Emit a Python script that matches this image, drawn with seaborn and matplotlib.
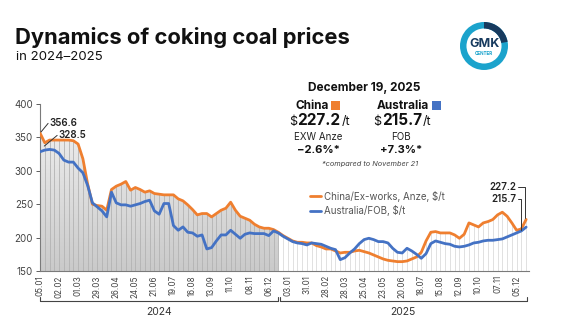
import numpy as np
import pandas as pd
import seaborn as sns
import matplotlib
matplotlib.use("Agg")
import matplotlib.pyplot as plt
import matplotlib.transforms as mtransforms
from matplotlib.patches import Wedge, Circle, Rectangle, PathPatch
from matplotlib.lines import Line2D
from matplotlib.colors import LinearSegmentedColormap

# ---------------- data ----------------
tick_labels_2024 = ["05.01", "02.02", "01.03", "29.03", "26.04", "24.05", "21.06",
                    "19.07", "16.08", "13.09", "11.10", "08.11", "06.12"]
tick_labels_2025 = ["03.01", "31.01", "28.02", "28.03", "25.04", "23.05", "20.06",
                    "18.07", "15.08", "12.09", "10.10", "07.11", "05.12"]

china = [356.6, 342, 346, 346, 346, 346, 346, 345, 340, 318,
         280, 250, 248, 247, 241, 272, 277, 280, 284, 271,
         275, 272, 268, 270, 266, 265, 264, 264, 264, 258,
         255, 249, 242, 234, 236, 236, 231, 236, 241, 244,
         253, 241, 232, 229, 226, 220, 216, 214, 214, 212,
         208, 203, 199, 195, 193, 193, 192, 192, 188, 186,
         183, 183, 180, 177, 178, 178, 180, 181, 179, 177,
         174, 171, 168, 166, 165, 164, 164, 165, 168, 171,
         178, 195, 208, 209, 207, 207, 207, 204, 199, 205,
         222, 219, 216, 222, 224, 227, 234, 238, 232, 222,
         211, 213, 227.2]

australia = [328.5, 331, 332, 331, 326, 316, 313, 313, 304, 297,
             278, 252, 246, 240, 231, 268, 252, 249, 249, 247,
             249, 251, 254, 256, 240, 235, 251, 251, 218, 211,
             216, 208, 207, 202, 204, 183, 185, 195, 204, 204,
             211, 205, 199, 205, 207, 206, 206, 206, 203, 210,
             207, 202, 198, 194, 192, 191, 189, 192, 191, 190,
             187, 184, 182, 167, 170, 177, 183, 191, 197, 199,
             197, 194, 194, 192, 184, 178, 177, 184, 180, 175,
             169, 176, 191, 195, 193, 191, 190, 187, 186, 187,
             189, 192, 193, 195, 196, 196, 197, 198, 201, 204,
             207, 210, 215.7]

series_names = ["China/Ex-works, Anze, $/t", "Australia/FOB, $/t"]
colors = {"China/Ex-works, Anze, $/t": "#ef7f2f", "Australia/FOB, $/t": "#4472c4"}

n = len(china)
idx = np.arange(n)
df = pd.DataFrame({
    "week": np.concatenate([idx, idx]),
    "price": np.concatenate([china, australia]),
    "series": [series_names[0]] * n + [series_names[1]] * n,
})

# ---------------- figure ----------------
sns.set_theme(style="white")
plt.rcParams['font.family'] = ['Inter', 'DejaVu Sans']
W, H = 564, 322
fig = plt.figure(figsize=(W / 100, H / 100), dpi=100)
fig.patch.set_facecolor("white")

def fx(px):
    return px / W

def fy(py):
    return 1 - py / H

ax = fig.add_axes([fx(40), fy(271), fx(529) - fx(40), fy(104) - fy(271)])
ax.set_facecolor("none")

top = np.maximum(np.array(china), np.array(australia))
split = 50

# gradient gray fill for 2024
poly = ax.fill_between(idx[:split + 1], 150, top[:split + 1], facecolor="none", edgecolor="none")
clip = PathPatch(poly.get_paths()[0], transform=ax.transData, facecolor="none", edgecolor="none")
ax.add_patch(clip)
cmap = LinearSegmentedColormap.from_list("g", ["#cacaca", "#eeeeee"])
grad = np.linspace(0, 1, 256).reshape(-1, 1)
im = ax.imshow(grad, extent=[0, split, 150, 370], origin="lower", cmap=cmap,
               aspect="auto", zorder=1, interpolation="bilinear")
im.set_clip_path(clip)

# weekly stems
ax.vlines(idx[:split + 1], 150, top[:split + 1], colors="#b3b3b3", lw=0.6, zorder=2)
ax.vlines(idx[split + 1:], 150, top[split + 1:], colors="#dcdcdc", lw=0.6, zorder=2)

sns.lineplot(data=df, x="week", y="price", hue="series", palette=colors,
             linewidth=2.0, ax=ax, legend=False, zorder=4)

ax.set_xlim(0, 102.6)
ax.set_ylim(150, 400)
ax.set_xlabel("")
ax.set_ylabel("")

ticks = list(range(0, 101, 4))
ax.set_xticks(ticks)
ax.set_xticklabels(tick_labels_2024 + tick_labels_2025, rotation=90, fontsize=5.8, color="#444444")
ax.set_yticks([150, 200, 250, 300, 350, 400])
ax.tick_params(axis="y", labelsize=7, colors="#444444", length=3, width=0.6, pad=2, direction="out", left=True)
ax.tick_params(axis="x", length=0, pad=3)
for s in ["top", "right"]:
    ax.spines[s].set_visible(False)
for s in ["left", "bottom"]:
    ax.spines[s].set_color("#7a7a7a")
    ax.spines[s].set_linewidth(0.8)

# annotations start
lc = "#333333"
ax.plot([0.2, 1.7], [358, 371], color=lc, lw=0.7, zorder=5)
ax.text(1.9, 371.5, "356.6", fontsize=7, fontweight="semibold", color="#222222", va="center", ha="left")
ax.plot([0.9, 3.6], [337, 353], color=lc, lw=0.7, zorder=5)
ax.text(3.9, 353.5, "328.5", fontsize=7, fontweight="semibold", color="#222222", va="center", ha="left")

# annotations end
ax.text(100.0, 275.7, "227.2", fontsize=7, fontweight="semibold", color="#222222", va="center", ha="right")
ax.text(100.0, 257.8, "215.7", fontsize=7, fontweight="semibold", color="#222222", va="center", ha="right")
ax.plot([100.2, 101.8, 101.8], [275.7, 275.7, 229], color=lc, lw=0.7, zorder=5, clip_on=False)
ax.plot([100.2, 101.0, 101.0], [257.8, 257.8, 212], color=lc, lw=0.7, zorder=5, clip_on=False)

# year brackets
trans = mtransforms.blended_transform_factory(ax.transData, fig.transFigure)
yb = fy(301)
for x0, x1, label in [(0, 49.9, "2024"), (50.3, 102.1, "2025")]:
    ax.plot([x0, x1], [yb, yb], color="#444444", lw=0.8, transform=trans, clip_on=False)
    ax.plot([x0, x0], [yb, yb + 0.012], color="#444444", lw=0.8, transform=trans, clip_on=False)
    ax.plot([x1, x1], [yb, yb + 0.012], color="#444444", lw=0.8, transform=trans, clip_on=False)
    ax.text((x0 + x1) / 2, fy(312), label, transform=trans, fontsize=7.5, color="#333333",
            ha="center", va="center")

# legend
handles = [Line2D([0], [0], color=colors[s], lw=2) for s in series_names]
fig.legend(handles, series_names, loc="upper left", bbox_to_anchor=(fx(306), fy(187)),
           frameon=False, fontsize=7, handlelength=1.1, handletextpad=0.35,
           labelspacing=0.35, labelcolor="#555555", borderaxespad=0)

# title
fig.text(fx(15), fy(37), "Dynamics of coking coal prices", fontsize=15.8, fontweight="bold",
         color="#111111", ha="left", va="center")
fig.text(fx(16), fy(57), "in 2024\u20132025", fontsize=9.5, color="#111111", ha="left", va="center")

# header box
fig.text(fx(364), fy(88), "December 19, 2025", fontsize=8.5, fontweight="bold", color="#111111",
         ha="center", va="center")
fig.text(fx(329), fy(106), "China", fontsize=8.5, fontweight="bold", color="#111111", ha="right", va="center")
fig.patches.append(Rectangle((fx(331), fy(110)), fx(9), fy(101) - fy(110), transform=fig.transFigure,
                             facecolor="#ef7f2f", edgecolor="none"))
fig.text(fx(429), fy(106), "Australia", fontsize=8.5, fontweight="bold", color="#111111", ha="right", va="center")
fig.patches.append(Rectangle((fx(432), fy(110)), fx(9), fy(101) - fy(110), transform=fig.transFigure,
                             facecolor="#4472c4", edgecolor="none"))

renderer = fig.canvas.get_renderer()
for cx, val, basis, chg in [(318, "227.2", "EXW Anze", "\u22122.6%*"), (401, "215.7", "FOB", "+7.3%*")]:
    tv = fig.text(fx(cx + 1), fy(125), val, fontsize=11, fontweight="bold", color="#111111",
                  ha="center", va="baseline")
    bb = tv.get_window_extent(renderer)
    fig.text(bb.x0 / W - 0.5 / W, fy(125), "$", fontsize=9, color="#111111", ha="right", va="baseline")
    fig.text(bb.x1 / W + 1 / W, fy(125), "/t", fontsize=9, color="#111111", ha="left", va="baseline")
    fig.text(fx(cx), fy(137), basis, fontsize=7, color="#222222", ha="center", va="center")
    fig.text(fx(cx), fy(150), chg, fontsize=8, fontweight="bold", color="#111111", ha="center", va="center")
fig.text(fx(370), fy(164), "*compared to November 21", fontsize=5.3, style="italic", color="#444444",
         ha="center", va="center")

# logo
logo_ax = fig.add_axes([fx(460), fy(70), fx(48), fy(22) - fy(70)])
logo_ax.set_xlim(-1, 1)
logo_ax.set_ylim(-1, 1)
logo_ax.set_aspect("equal")
logo_ax.axis("off")
logo_ax.add_patch(Wedge((0, 0), 1.0, 0, 360, width=0.27, facecolor="#1ba3cc", edgecolor="none"))
logo_ax.add_patch(Wedge((0, 0), 1.0, 10, 90, width=0.27, facecolor="#173a5e", edgecolor="none"))
logo_ax.text(0, 0.1, "GMK", fontsize=9, fontweight="bold", color="#173a5e", ha="center", va="center")
logo_ax.text(0, -0.3, "CENTER", fontsize=3.3, fontweight="bold", color="#1ba3cc", ha="center", va="center")

fig.savefig("out.png", dpi=100, facecolor="white")
